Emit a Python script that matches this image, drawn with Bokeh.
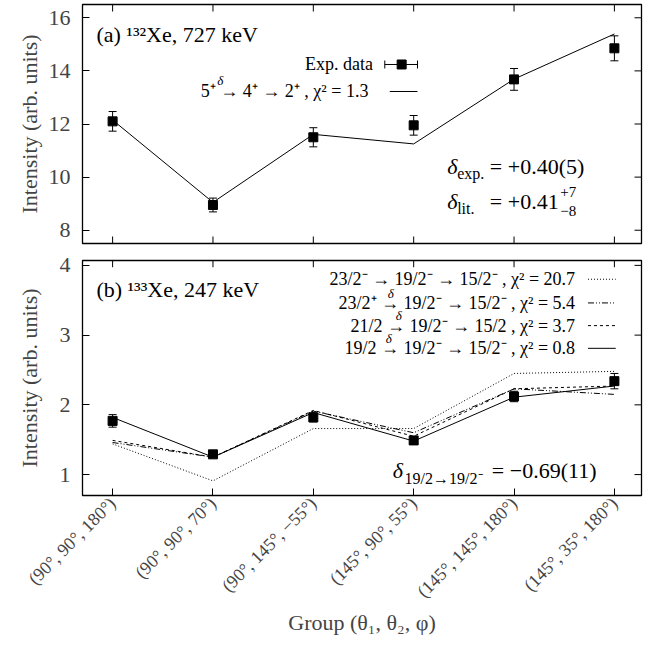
import math
from bokeh.plotting import figure
from bokeh.models import (Range1d, FixedTicker, Label, Whisker,
                          TeeHead, ColumnDataSource)
from bokeh.layouts import column
from bokeh.embed import file_html
from bokeh.resources import INLINE

# ---------------- data ----------------
groups = ["(90°, 90°, 180°)", "(90°, 90°, 70°)", "(90°, 145°, −55°)",
          "(145°, 90°, 55°)", "(145°, 145°, 180°)", "(145°, 35°, 180°)"]
gx = [0, 1, 2, 3, 4, 5]

# panel (a) 132Xe, 727 keV
a_ticks = [8, 10, 12, 14, 16]
a_exp = [12.10, 8.95, 11.50, 11.95, 13.68, 14.85]
a_err = [0.37, 0.26, 0.36, 0.37, 0.41, 0.47]
a_fit = [12.15, 9.05, 11.61, 11.25, 13.69, 15.39]

# panel (b) 133Xe, 247 keV
b_ticks = [1, 2, 3, 4]
b_exp = [1.77, 1.29, 1.82, 1.49, 2.12, 2.34]
b_err = [0.09, 0.05, 0.065, 0.055, 0.075, 0.11]
b_23m = [1.44, 0.91, 1.66, 1.66, 2.45, 2.48]   # 23/2- , chi2 20.7
b_23p = [1.46, 1.25, 1.91, 1.60, 2.23, 2.15]   # 23/2+ , chi2 5.4
b_21 = [1.49, 1.25, 1.92, 1.55, 2.23, 2.27]    # 21/2 , chi2 3.7
b_19 = [1.82, 1.25, 1.89, 1.48, 2.11, 2.27]    # 19/2 , chi2 0.8

FONT = "Liberation Serif"

XMIN, XMAX = -0.3, 5.27
FRAME_W = 559
# reference-pixel -> data helpers (for annotation placement only)
PXU = 564 / 5.57
def tx(px):
    return (px - 90.0) / PXU - 0.3
def ty_a(py):
    return 16.5 - (py - 13) / 26.56
def ty_b(py):
    return 4.07 - (py - 269) / 70.67

xr = Range1d(XMIN, XMAX)
TICK = 7


def make_fig(h, y0, y1, yticks, mb_top, mb_bottom, frame_h, title_standoff):
    p = figure(width=643, height=h, x_range=xr, y_range=Range1d(y0, y1),
               output_backend="svg", toolbar_location=None,
               min_border_left=82, min_border_right=2,
               min_border_top=mb_top, min_border_bottom=mb_bottom)
    p.outline_line_color = "black"
    p.outline_line_width = 1.3
    p.xgrid.visible = False
    p.ygrid.visible = False
    p.background_fill_color = "white"
    p.border_fill_color = "white"
    for ax in p.xaxis + p.yaxis:
        ax.major_tick_in = TICK
        ax.major_tick_out = 0
        ax.minor_tick_in = 0
        ax.minor_tick_out = 0
        ax.axis_line_color = None
        ax.major_tick_line_color = "black"
    p.xaxis.ticker = FixedTicker(ticks=gx)
    p.yaxis.ticker = FixedTicker(ticks=yticks)
    yl = p.yaxis[0]
    yl.axis_label = "Intensity (arb. units)"
    yl.axis_label_text_font = FONT
    yl.axis_label_text_font_size = "22px"
    yl.axis_label_text_font_style = "normal"
    yl.axis_label_standoff = title_standoff
    yl.major_label_text_font = FONT
    yl.major_label_text_font_size = "22px"
    yl.major_label_standoff = 12
    # mirrored inward ticks on the top and right edges
    dy = TICK * (y1 - y0) / frame_h
    dx = TICK * (XMAX - XMIN) / FRAME_W
    p.segment(x0=gx, y0=[y1] * len(gx), x1=gx, y1=[y1 - dy] * len(gx),
              line_color="black", line_width=1)
    p.segment(x0=[XMAX] * len(yticks), y0=yticks,
              x1=[XMAX - dx] * len(yticks), y1=yticks,
              line_color="black", line_width=1)
    return p, dy


def add_label(p, x, y, text, size="22px", align="left", style="normal"):
    p.add_layout(Label(x=x, y=y, text=text, text_font=FONT,
                       text_font_size=size, text_align=align,
                       text_baseline="middle", text_font_style=style,
                       text_color="black"))


def add_errorbars(p, xs, ys, es):
    src = ColumnDataSource(dict(x=xs, y=ys,
                                lo=[v - e for v, e in zip(ys, es)],
                                hi=[v + e for v, e in zip(ys, es)]))
    p.add_layout(Whisker(source=src, base="x", upper="hi", lower="lo",
                         line_color="black", line_width=1,
                         upper_head=TeeHead(size=8, line_color="black", line_width=1),
                         lower_head=TeeHead(size=8, line_color="black", line_width=1)))
    p.scatter("x", "y", source=src, marker="square", size=9, color="black")


# ---------------- panel (a) ----------------
p1, dy1 = make_fig(251, 7.5, 16.5, a_ticks, 4, 8, 239, 4)
p1.xaxis.visible = False
p1.segment(x0=gx, y0=[7.5] * len(gx), x1=gx, y1=[7.5 + dy1] * len(gx),
           line_color="black", line_width=1)

p1.line(gx, a_fit, line_color="black", line_width=1)
add_errorbars(p1, gx, a_exp, a_err)

add_label(p1, tx(104), ty_a(43), "(a) ¹³²Xe, 727 keV")
# legend
add_label(p1, tx(383), ty_a(73), "Exp. data", size="18px", align="right")
add_label(p1, tx(383), ty_a(100), "5⁺ → 4⁺ → 2⁺ ,  χ² = 1.3", size="18px",
          align="right")
add_label(p1, tx(229), ty_a(89), "δ", size="13px", align="center",
          style="italic")
ly = ty_a(73)
p1.segment(x0=[tx(395)], y0=[ly], x1=[tx(428)], y1=[ly], line_color="black")
p1.scatter(x=[tx(395), tx(428)], y=[ly, ly], marker="dash", angle=math.pi / 2,
           size=8, color="black")
p1.scatter(x=[tx(412)], y=[ly], marker="square", size=9, color="black")
ly2 = ty_a(100)
p1.segment(x0=[tx(400)], y0=[ly2], x1=[tx(428)], y1=[ly2], line_color="black")
# delta annotations
add_label(p1, tx(458), ty_a(175), "δ", style="italic")
add_label(p1, tx(468), ty_a(182), "exp.", size="16px")
add_label(p1, tx(501), ty_a(175), "= +0.40(5)")
add_label(p1, tx(458), ty_a(210), "δ", style="italic")
add_label(p1, tx(468), ty_a(217), "lit.", size="16px")
add_label(p1, tx(501), ty_a(210), "= +0.41")
add_label(p1, tx(572), ty_a(201), "+7", size="15px")
add_label(p1, tx(572), ty_a(220), "−8", size="15px")

# ---------------- panel (b) ----------------
p2, dy2 = make_fig(387, 0.7, 4.07, b_ticks, 9, 0, 244, 15)
xb = p2.xaxis[0]
xb.major_label_overrides = {i: g for i, g in zip(gx, groups)}
xb.major_label_orientation = math.pi / 4
xb.major_label_text_font = FONT
xb.major_label_text_font_size = "18px"
xb.major_label_standoff = 5
xb.axis_label = "Group (θ₁, θ₂, φ)"
xb.axis_label_text_font = FONT
xb.axis_label_text_font_size = "22px"
xb.axis_label_text_font_style = "normal"
xb.axis_label_standoff = -1

p2.line(gx, b_23m, line_color="black", line_width=1, line_dash="1 2")
p2.line(gx, b_23p, line_color="black", line_width=1, line_dash="6 2 1 2 1 2")
p2.line(gx, b_21, line_color="black", line_width=1, line_dash="3 3")
p2.line(gx, b_19, line_color="black", line_width=1)
add_errorbars(p2, gx, b_exp, b_err)

add_label(p2, tx(104), ty_b(298), "(b) ¹³³Xe, 247 keV")
rows = [("23/2⁻ → 19/2⁻ → 15/2⁻ , χ² = 20.7", "1 2", None),
        ("23/2⁺ → 19/2⁻ → 15/2⁻ , χ² = 5.4", "6 2 1 2 1 2", 401),
        ("21/2 → 19/2⁻ → 15/2 , χ² = 3.7", "3 3", 409),
        ("19/2 → 19/2⁻ → 15/2⁻ , χ² = 0.8", "solid", 399)]
row_y = [288, 312, 335, 358]
for (txt, dash, dxp), ry in zip(rows, row_y):
    add_label(p2, tx(587), ty_b(ry), txt, size="18px", align="right")
    yy = ty_b(ry)
    p2.line([tx(600), tx(628)], [yy, yy], line_color="black", line_width=1,
            line_dash=dash)
    if dxp is not None:
        add_label(p2, tx(dxp), ty_b(ry - 10), "δ", size="13px", align="center",
                  style="italic")

add_label(p2, tx(403), ty_b(482), "δ", style="italic")
add_label(p2, tx(415), ty_b(490), "19/2→19/2⁻", size="16px")
add_label(p2, tx(503), ty_b(482), "= −0.69(11)")

layout = column(p1, p2)
open("out.html", "w").write(file_html(layout, INLINE))
